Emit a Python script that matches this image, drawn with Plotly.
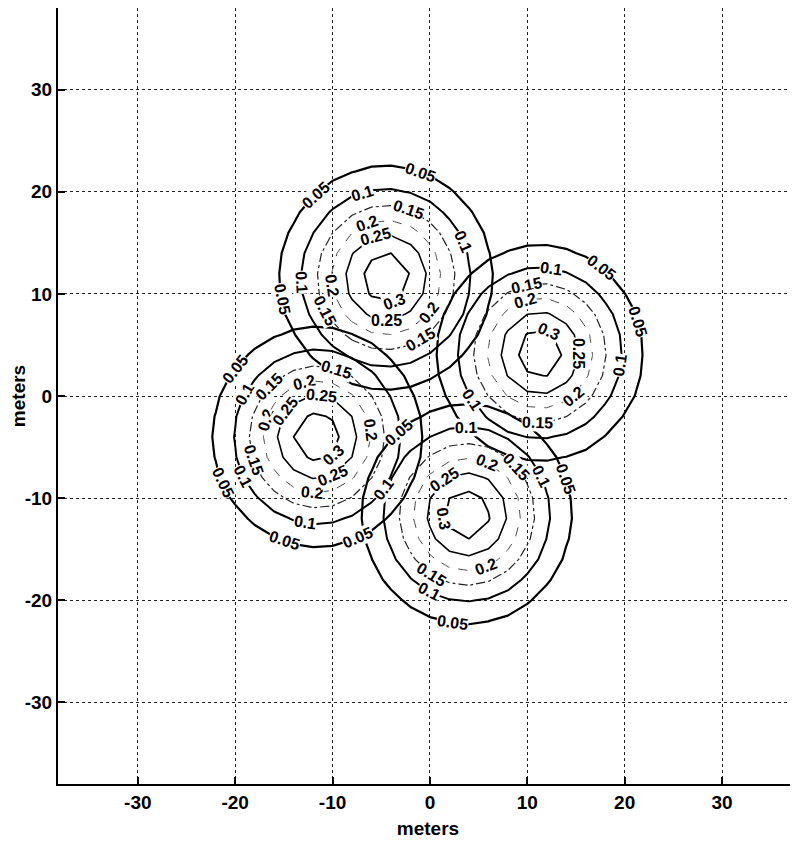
import numpy as np
import plotly.graph_objects as go

# Data
centers_x = [-4.5, 11.3, -11.6, 3.8]
centers_y = [11.6, 4.2, -4.0, -11.6]
peaks = [0.33, 0.33, 0.33, 0.33]
spreads = [5.6, 5.4, 5.5, 5.5]
levels = [0.05, 0.10, 0.15, 0.20, 0.25, 0.30]
tick_vals = [-30, -20, -10, 0, 10, 20, 30]
tick_text = ["-30", "-20", "-10", "0", "10", "20", "30"]

# contour-label placement: (bump index, level, angle in degrees)
label_bump = [0, 0, 0, 0, 0, 0, 0, 0, 0, 0, 0, 0, 0, 0, 0,
              1, 1, 1, 1, 1, 1, 1, 1, 1, 1, 1,
              2, 2, 2, 2, 2, 2, 2, 2, 2, 2, 2, 2, 2, 2, 2, 2, 2, 2, 2,
              3, 3, 3, 3, 3, 3, 3, 3, 3, 3, 3, 3]
label_level = [0.05, 0.05, 0.05, 0.1, 0.1, 0.1, 0.15, 0.15, 0.15, 0.2, 0.2, 0.2, 0.25, 0.25, 0.3,
               0.05, 0.05, 0.1, 0.1, 0.1, 0.15, 0.15, 0.2, 0.2, 0.25, 0.3,
               0.05, 0.05, 0.05, 0.05, 0.1, 0.1, 0.1, 0.1, 0.15, 0.15, 0.15, 0.2, 0.2, 0.2, 0.2, 0.25, 0.25, 0.25, 0.3,
               0.05, 0.05, 0.05, 0.1, 0.1, 0.1, 0.15, 0.15, 0.2, 0.2, 0.25, 0.3]
label_angle = [132, 71, 191, 107, 24, 183, 71, 300, 207, 110, 322, 188, 105, 270, 290,
               53, 17, 82, 352, 213, 102, 268, 106, 309, 0, 66,
               142, 205, 252, 293, 151, 207, 262, 323, 135, 199, 73, 104, 163, 7, 265, 84, 143, 293, 312,
               262, 19, 131, 91, 26, 243, 43, 238, 68, 291, 124, 189]

# sampling grid (meters)
grid = np.arange(-38.0, 38.01, 2.0)
GX, GY = np.meshgrid(grid, grid)

level_style = {
    0.05: dict(color="black", width=2.2, dash="solid"),
    0.10: dict(color="black", width=2.0, dash="solid"),
    0.15: dict(color="#222222", width=1.2, dash="dashdot"),
    0.20: dict(color="#444444", width=1.0, dash="dash"),
    0.25: dict(color="black", width=1.6, dash="solid"),
    0.30: dict(color="black", width=1.8, dash="solid"),
}

FONT = "Liberation Sans, Arial"

fig = go.Figure()
for cx, cy, a, s in zip(centers_x, centers_y, peaks, spreads):
    z = a * np.exp(-((GX - cx) ** 2 + (GY - cy) ** 2) / (2 * s ** 2))
    for lv in levels:
        st = level_style[lv]
        fig.add_trace(go.Contour(
            x=grid, y=grid, z=z,
            contours=dict(start=lv, end=lv + 1e-9, size=1, coloring="none", showlabels=False),
            line=dict(color=st["color"], width=st["width"], dash=st["dash"], smoothing=0),
            showscale=False, hoverinfo="skip",
        ))

# contour labels, placed on the level's ring at the angle
for b, lv, ang in zip(label_bump, label_level, label_angle):
    a, s = peaks[b], spreads[b]
    r = s * np.sqrt(2 * np.log(a / lv))
    th = np.deg2rad(ang)
    lx = centers_x[b] + r * np.cos(th)
    ly = centers_y[b] + r * np.sin(th)
    t = ((ang - 90) + 90) % 180 - 90
    fig.add_annotation(
        x=lx, y=ly, xref="x", yref="y", text=f"{lv:g}", showarrow=False,
        textangle=-t, bgcolor="white", borderpad=0,
        font=dict(family=FONT, size=16, color="black", weight="bold"),
    )

axis_common = dict(
    tickvals=tick_vals, ticktext=tick_text,
    showgrid=True, gridcolor="#222222", griddash="dot", gridwidth=1,
    zeroline=False, showline=True, linecolor="black", linewidth=2,
    ticks="inside", ticklen=7, tickwidth=1.5, tickcolor="black",
    tickfont=dict(family=FONT, size=19, color="black", weight="bold"),
    title_font=dict(family=FONT, size=19, color="black", weight="bold"),
    automargin=False,
)

fig.update_layout(
    width=790, height=836,
    margin=dict(l=50, r=0, t=0, b=60),
    paper_bgcolor="white", plot_bgcolor="white",
    showlegend=False,
    xaxis=dict(range=[-38.2, 37.8], title=dict(text="meters", standoff=10), **axis_common),
    yaxis=dict(range=[-38, 38], title=dict(text="meters", standoff=2), **axis_common),
)

fig.write_html("out.html")
